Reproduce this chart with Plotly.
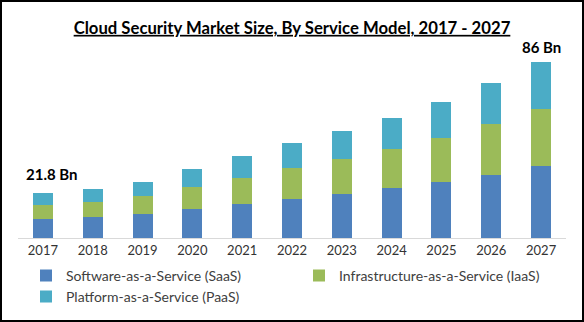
import plotly.graph_objects as go

years = ["2017", "2018", "2019", "2020", "2021", "2022", "2023", "2024", "2025", "2026", "2027"]
saas = [9.4, 10.3, 11.7, 14.2, 16.6, 19.1, 21.5, 24.4, 27.4, 30.8, 35.2]
iaas = [6.9, 7.3, 8.8, 10.7, 12.7, 15.1, 17.1, 19.1, 21.5, 24.9, 27.8]
paas = [5.5, 6.4, 6.8, 8.8, 10.7, 12.2, 13.7, 15.1, 17.6, 20.0, 23.0]
series_names = ["Software-as-a-Service (SaaS)", "Infrastructure-as-a-Service (IaaS)", "Platform-as-a-Service (PaaS)"]
colors = ["#4F81BD", "#9BBB59", "#4BACC6"]
label_years = ["2017", "2027"]
label_texts = ["21.8 Bn", "86 Bn"]

FONT = "Lato"

fig = go.Figure()
for name, vals, col in zip(series_names, [saas, iaas, paas], colors):
    fig.add_trace(go.Bar(x=years, y=vals, name=name, marker=dict(color=col, line=dict(width=0)),
                         width=0.4))

totals = {y: s + i + p for y, s, i, p in zip(years, saas, iaas, paas)}
shifts = {"2017": (9, 8), "2027": (0, 4)}
for yr, txt in zip(label_years, label_texts):
    fig.add_annotation(x=years.index(yr), y=totals[yr], text=f"<b>{txt}</b>", showarrow=False,
                       yanchor="bottom", xshift=shifts[yr][0], yshift=shifts[yr][1],
                       font=dict(family=FONT, size=15, color="#000000"))

fig.update_layout(
    barmode="stack",
    width=584, height=322,
    margin=dict(l=18, r=18, t=40, b=84, autoexpand=False),
    paper_bgcolor="white", plot_bgcolor="white",
    title=dict(text="<b><u>Cloud Security Market Size, By Service Model, 2017 - 2027</u></b>",
               x=0.5, xanchor="center", y=1 - 28 / 322, yanchor="middle",
               font=dict(family=FONT, size=16.7, color="#000000")),
    xaxis=dict(type="category", range=[-0.5, 10.5], showline=True, linecolor="#D9D9D9", linewidth=1,
               ticks="", showgrid=False,
               tickfont=dict(family=FONT, size=13, color="#333333")),
    yaxis=dict(range=[0, 96.7], visible=False, showgrid=False),
    legend=dict(orientation="h", x=8 / 548, y=-0.11, xanchor="left", yanchor="top",
                font=dict(family=FONT, size=14, color="#404040"),
                entrywidth=228, traceorder="normal", itemwidth=30,
                tracegroupgap=0),
    showlegend=True,
    shapes=[dict(type="rect", xref="paper", yref="paper",
                 x0=-18 / 548 + 1 / 548, x1=1 + 18 / 548 - 1 / 548,
                 y0=-84 / 198 + 1 / 198, y1=1 + 40 / 198 - 1 / 198,
                 line=dict(color="#000000", width=2), fillcolor="rgba(0,0,0,0)", layer="above")],
)

fig.write_html("out.html")
